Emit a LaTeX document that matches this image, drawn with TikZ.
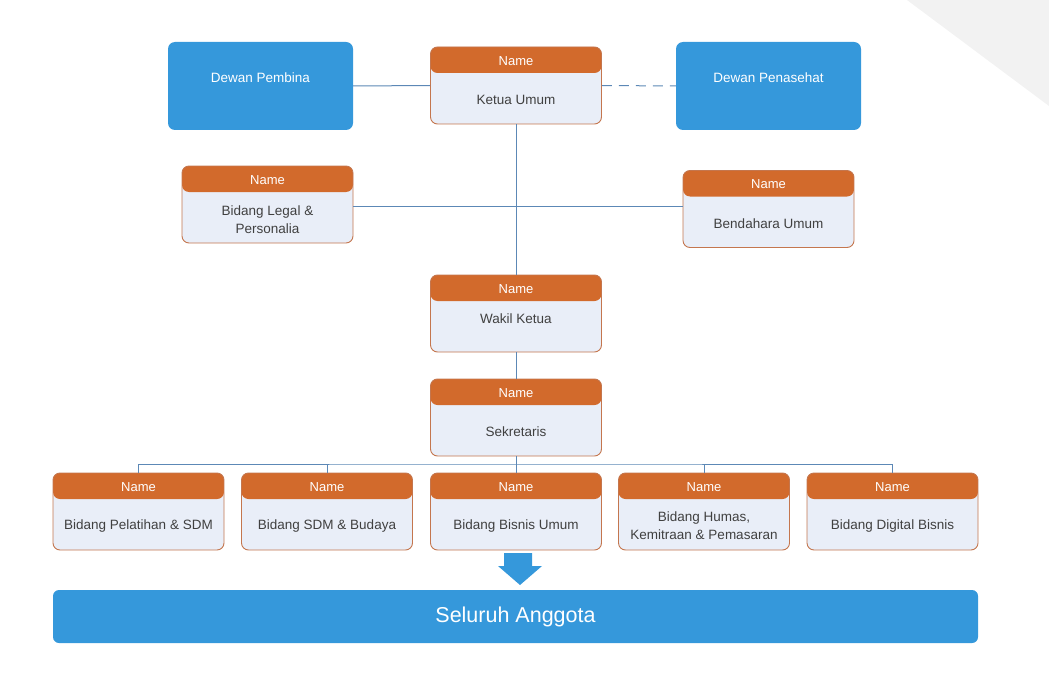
\documentclass[tikz,border=0pt]{standalone}
\usepackage{fontspec}
\setmainfont{Liberation Sans}
\definecolor{roleHead}{RGB}{210,106,44}
\definecolor{roleEdge}{RGB}{196,118,78}
\definecolor{roleBody}{RGB}{233,238,248}
\definecolor{roleText}{RGB}{64,64,64}
\definecolor{boardBlue}{RGB}{53,152,219}
\definecolor{linkBlue}{RGB}{92,136,182}
\definecolor{cornerGray}{RGB}{242,242,242}

\tikzset{
  role/.style={rectangle, rounded corners=7pt, draw=roleEdge, line width=0.9pt,
    fill=roleBody, minimum width=171pt, minimum height=77pt,
    path picture={
      \fill[roleHead] (path picture bounding box.north west)
        rectangle ([yshift=-26pt]path picture bounding box.north east);
    }},
  roletitle/.style={text=white, inner sep=1pt, font=\fontsize{13}{15}\selectfont},
  roletext/.style={text=roleText, align=center, inner sep=1pt,
    font=\fontsize{13.5}{18}\selectfont},
  board/.style={rectangle, rounded corners=7pt, fill=boardBlue,
    minimum width=185pt, minimum height=88pt},
  boardtext/.style={text=white, inner sep=1pt, font=\fontsize{13.5}{16}\selectfont},
  link/.style={linkBlue, line width=1pt}
}

\begin{document}
\begin{tikzpicture}[x=1pt,y=-1pt]
  \useasboundingbox (0,0) rectangle (1049,682);
  % Gray corner in the top right
  \fill[cornerGray] (907,0) -- (1049,0) -- (1049,106) -- cycle;
  % Boards beside the chair
  \foreach \n/\x/\txt in {pembina/260.5/Dewan Pembina, penasehat/768.5/Dewan Penasehat} {
    \node[board] (\n) at (\x,86) {};
    \node[boardtext] (\n-t) at ([yshift=8pt]\n.center) {\txt};
  }
  % Role boxes: orange header with "Name", text in the body
  \foreach \n/\x/\y/\dy/\txt in {
      ketua/516/85.5/-14.5/{Ketua Umum},
      legal/267.5/204.5/-15/{Bidang Legal \&\\Personalia},
      bendahara/768.5/209/-14.5/{Bendahara Umum},
      wakil/516/313.5/-5/{Wakil Ketua},
      sekretaris/516/417.5/-14.5/{Sekretaris},
      pelatihan/138.5/511.5/-14.5/{Bidang Pelatihan \& SDM},
      budaya/327/511.5/-14.5/{Bidang SDM \& Budaya},
      bisnis/516/511.5/-14.5/{Bidang Bisnis Umum},
      humas/704/511.5/-14.5/{Bidang Humas,\\Kemitraan \& Pemasaran},
      digital/892.5/511.5/-14.5/{Bidang Digital Bisnis}} {
    \node[role] (\n) at (\x,\y) {};
    \node[roletitle] (\n-h) at ([yshift=-14.5pt]\n.north) {Name};
    \node[roletext] (\n-t) at ([yshift=\dy pt]\n.center) {\txt};
  }
  % All members
  \node[rectangle, rounded corners=6pt, fill=boardBlue, text=white,
    minimum width=925pt, minimum height=53pt,
    font=\fontsize{21.5}{24}\selectfont] (anggota) at (515.5,616.5) {Seluruh Anggota};
  % Connectors
  \draw[link] (pembina.east) -- (ketua.west);
  \draw[link, dash pattern=on 10pt off 7pt] (ketua.east) -- (penasehat.west);
  \draw[link] (ketua.south) -- (wakil.north);
  \draw[link] (legal.east |- 0,206) -- (bendahara.west |- 0,206);
  \draw[link] (wakil.south) -- (sekretaris.north);
  \coordinate (bus) at (516,464);
  \draw[link] (sekretaris.south) -- (bus);
  \draw[link] (pelatihan.north) |- (bus) -| (digital.north);
  \foreach \n in {budaya,bisnis,humas}
    \draw[link] (\n.north) -- (\n.north |- bus);
  % Block arrow down to the members
  \fill[boardBlue] (504,553) -- (532,553) -- (532,566) -- (542,566)
    -- (520,585) -- (498,566) -- (504,566) -- cycle;
\end{tikzpicture}
\end{document}
